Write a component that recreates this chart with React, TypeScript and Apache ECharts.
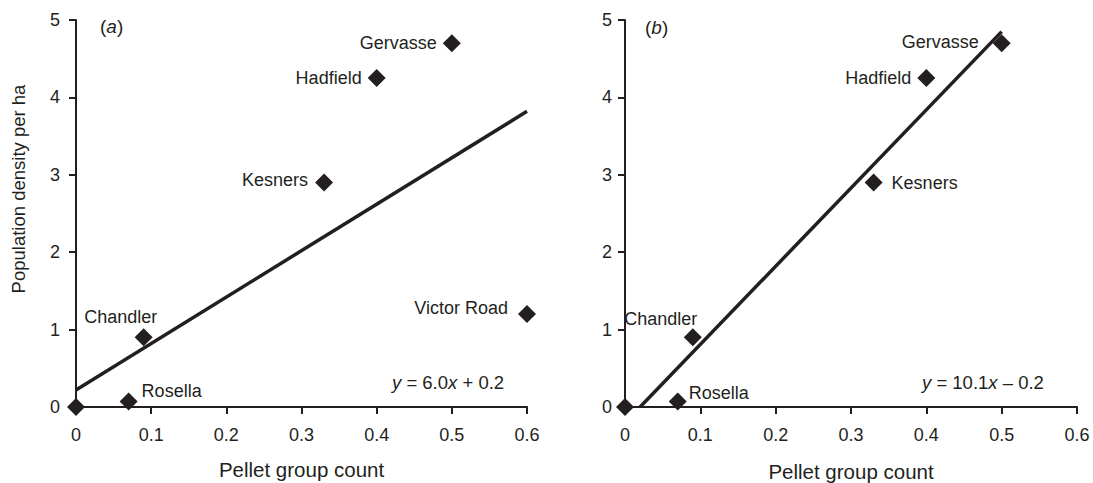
import React, { useEffect, useRef } from "react";
import * as echarts from "echarts";

// ---- data ----
const sitesA = ["", "Rosella", "Chandler", "Kesners", "Hadfield", "Gervasse", "Victor Road"];
const pelletA = [0, 0.07, 0.09, 0.33, 0.4, 0.5, 0.6];
const densityA = [0, 0.07, 0.9, 2.9, 4.25, 4.7, 1.2];

const sitesB = ["", "Rosella", "Chandler", "Kesners", "Hadfield", "Gervasse"];
const pelletB = [0, 0.07, 0.09, 0.33, 0.4, 0.5];
const densityB = [0, 0.07, 0.9, 2.9, 4.25, 4.7];

// regression line end points
const fitAX = [0, 0.6];
const fitAY = [0.22, 3.82];
const fitBX = [0.02, 0.5];
const fitBY = [0, 4.85];

const xTicksMax = 0.6;
const yTicksMax = 5;
const equationA = "{i|y} = 6.0{i|x} + 0.2";
const equationB = "{i|y} = 10.1{i|x} – 0.2";
const xTitle = "Pellet group count";
const yTitle = "Population density per ha";

// ---- styles / label placement ----
const INK = "#231f20";
const FONT = "'Liberation Sans', Arial, sans-serif";

type LP = { position: string; distance: number; offset: [number, number] };
const placeA: Record<string, LP> = {
  Rosella: { position: "right", distance: 4, offset: [0, -11] },
  Chandler: { position: "top", distance: 5, offset: [-23, 3] },
  Kesners: { position: "left", distance: 7, offset: [0, -3] },
  Hadfield: { position: "left", distance: 6, offset: [0, 0] },
  Gervasse: { position: "left", distance: 6, offset: [0, 0] },
  "Victor Road": { position: "left", distance: 10, offset: [0, -6] },
};
const placeB: Record<string, LP> = {
  Rosella: { position: "right", distance: 2, offset: [0, -9] },
  Chandler: { position: "top", distance: 5, offset: [-32, 5] },
  Kesners: { position: "right", distance: 9, offset: [0, 0] },
  Hadfield: { position: "left", distance: 6, offset: [0, 0] },
  Gervasse: { position: "left", distance: 14, offset: [0, -1] },
};

function buildPoints(sites: string[], xs: number[], ys: number[], place: Record<string, LP>) {
  return xs.map((x, i) => {
    const p = place[sites[i]];
    return {
      name: sites[i],
      value: [x, ys[i]],
      label: p
        ? { show: true, position: p.position, distance: p.distance, offset: p.offset }
        : { show: false },
    };
  });
}

function xAxisCfg(gridIndex: number) {
  return {
    type: "value",
    gridIndex,
    min: 0,
    max: xTicksMax,
    interval: 0.1,
    name: xTitle,
    nameLocation: "middle",
    nameGap: gridIndex === 0 ? 52 : 54,
    nameTextStyle: { color: INK, fontSize: 20.5, fontFamily: FONT },
    axisLine: { show: true, lineStyle: { color: INK, width: 2 } },
    axisTick: { show: true, length: 7, lineStyle: { color: INK, width: 2 } },
    axisLabel: { color: INK, fontSize: 18, fontFamily: FONT, margin: 19 },
    splitLine: { show: false },
  };
}

function yAxisCfg(gridIndex: number) {
  return {
    type: "value",
    gridIndex,
    min: 0,
    max: yTicksMax,
    interval: 1,
    axisLine: { show: true, lineStyle: { color: INK, width: 2 } },
    axisTick: { show: true, length: 7, lineStyle: { color: INK, width: 2 } },
    axisLabel: { color: INK, fontSize: 18, fontFamily: FONT, margin: gridIndex === 0 ? 16 : 13 },
    splitLine: { show: false },
  };
}

const scatterStyle = {
  type: "scatter",
  symbol: "diamond",
  symbolSize: 18,
  itemStyle: { color: INK, opacity: 1 },
  label: { color: INK, fontSize: 18, fontFamily: FONT, formatter: "{b}", opacity: 1 },
  emphasis: { disabled: true },
  z: 3,
};

const lineStyle = {
  type: "line",
  showSymbol: false,
  symbol: "none",
  lineStyle: { color: INK, width: 3.5, opacity: 1 },
  emphasis: { disabled: true },
  z: 2,
};

export default function App() {
  const ref = useRef<HTMLDivElement>(null);
  useEffect(() => {
    if (!ref.current) return;
    const chart = echarts.init(ref.current, undefined, { renderer: "svg" });
    const richI = { i: { fontStyle: "italic", fontSize: 18.5, fontFamily: FONT, fill: INK } };
    const richP = { i: { fontStyle: "italic", fontSize: 19, fontFamily: FONT, fill: INK } };
    chart.setOption({
      animation: false,
      backgroundColor: "#ffffff",
      textStyle: { fontFamily: FONT },
      grid: [
        { left: 76, top: 20, width: 451, height: 387, containLabel: false, outerBoundsMode: "none" },
        { left: 625, top: 20, width: 452, height: 387, containLabel: false, outerBoundsMode: "none" },
      ],
      xAxis: [xAxisCfg(0), xAxisCfg(1)],
      yAxis: [yAxisCfg(0), yAxisCfg(1)],
      series: [
        { ...lineStyle, xAxisIndex: 0, yAxisIndex: 0, data: fitAX.map((x, i) => [x, fitAY[i]]) },
        { ...lineStyle, xAxisIndex: 1, yAxisIndex: 1, data: fitBX.map((x, i) => [x, fitBY[i]]) },
        { ...scatterStyle, xAxisIndex: 0, yAxisIndex: 0, data: buildPoints(sitesA, pelletA, densityA, placeA) },
        { ...scatterStyle, xAxisIndex: 1, yAxisIndex: 1, data: buildPoints(sitesB, pelletB, densityB, placeB) },
      ],
      graphic: [
        {
          type: "text",
          x: 18,
          y: 189,
          rotation: Math.PI / 2,
          style: {
            text: yTitle,
            fontSize: 18.5,
            fontFamily: FONT,
            fill: INK,
            align: "center",
            verticalAlign: "middle",
          },
        },
        {
          type: "text",
          left: 100,
          top: 17,
          style: { text: "({i|a})", fontSize: 19, fontFamily: FONT, fill: INK, rich: richP },
        },
        {
          type: "text",
          left: 645,
          top: 18,
          style: { text: "({i|b})", fontSize: 19, fontFamily: FONT, fill: INK, rich: richP },
        },
        {
          type: "text",
          left: 392,
          top: 373,
          style: { text: equationA, fontSize: 18.5, fontFamily: FONT, fill: INK, rich: richI },
        },
        {
          type: "text",
          left: 922,
          top: 373,
          style: { text: equationB, fontSize: 18.5, fontFamily: FONT, fill: INK, rich: richI },
        },
      ],
    });
    return () => chart.dispose();
  }, []);
  return (
    <div
      ref={ref}
      style={{ position: "fixed", left: 0, top: 0, width: 1093, height: 483, background: "#fff" }}
    />
  );
}
